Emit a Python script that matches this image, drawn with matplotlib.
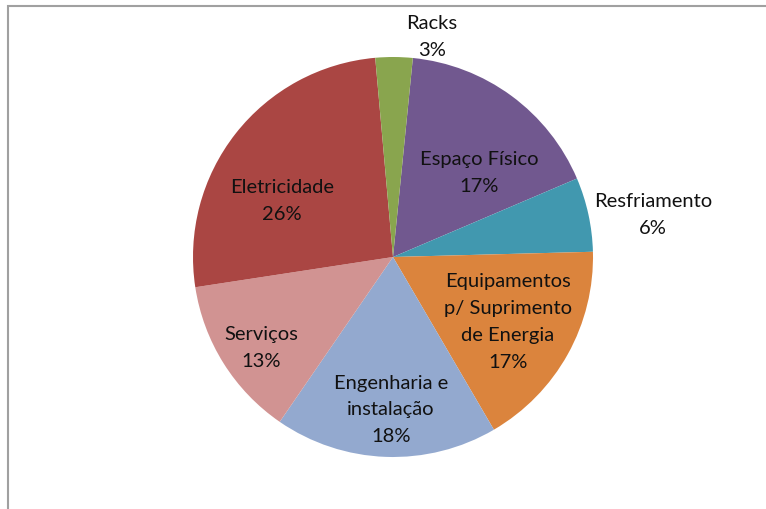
import matplotlib
matplotlib.use("Agg")
import matplotlib.pyplot as plt
from matplotlib.patches import Rectangle

categories = ["Espaço Físico", "Resfriamento", "Equipamentos\np/ Suprimento\nde Energia",
              "Engenharia e\ninstalação", "Serviços", "Eletricidade", "Racks"]
values = [17, 6, 17, 18, 13, 26, 3]
colors = ["#71588F", "#4198AF", "#DB843D", "#93A9CF", "#D19392", "#AA4643", "#89A54E"]
# label positions (layout, in pie-radius units)
label_pos = [(0.43, 0.425), (1.30, 0.215), (0.575, -0.32), (-0.01, -0.76),
             (-0.66, -0.45), (-0.555, 0.285), (0.195, 1.105)]

plt.rcParams['font.family'] = ['Lato', 'DejaVu Sans']

fig = plt.figure(figsize=(7.66, 5.10), dpi=100)
ax = fig.add_axes([0, 0, 1, 1])
ax.pie(values, colors=colors, startangle=84.3, counterclock=False, radius=1.0,
       center=(0, 0), wedgeprops=dict(linewidth=0))
ax.set_xlim(-1.965, 1.865)
ax.set_ylim(-1.26, 1.29)
ax.set_aspect('equal')
ax.axis('off')

total = sum(values)
for cat, v, (x, y) in zip(categories, values, label_pos):
    ax.text(x, y, f"{cat}\n{round(100*v/total)}%", ha='center', va='center',
            fontsize=14.5, color='#111111', linespacing=1.7)

# chart frame
fig.patches.append(Rectangle((8/766, -0.1), 1.2, 1 - 7/510 + 0.1, transform=fig.transFigure,
                             fill=False, edgecolor='#A0A0A0', linewidth=1.5))

fig.savefig("out.png", dpi=100)
